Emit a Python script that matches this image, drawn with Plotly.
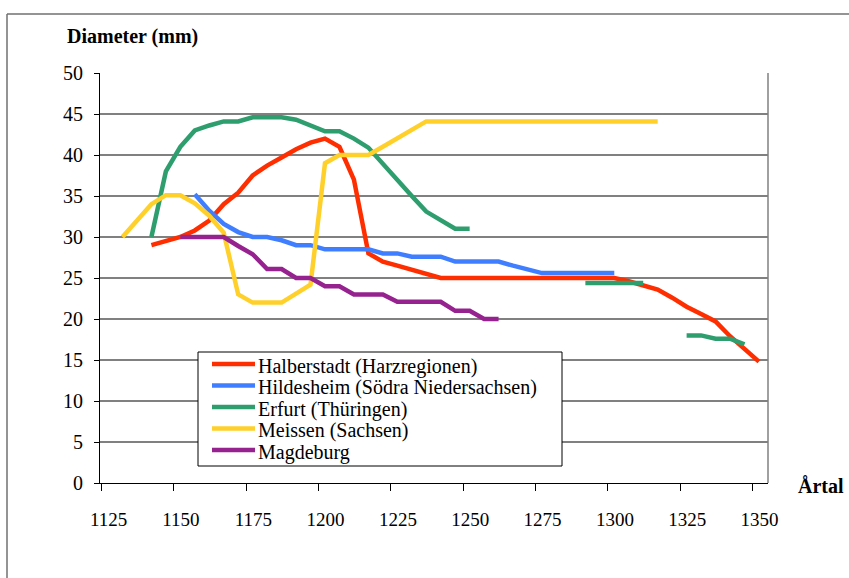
import plotly.graph_objects as go

# ---------------- data ----------------
series_names = [
    "Halberstadt (Harzregionen)",
    "Hildesheim (Södra Niedersachsen)",
    "Erfurt (Thüringen)",
    "Meissen (Sachsen)",
    "Magdeburg",
]

red_years = [1140, 1145, 1150, 1155, 1160, 1165, 1170, 1175, 1180, 1185, 1190, 1195,
             1200, 1205, 1210, 1215, 1220, 1225, 1230, 1235, 1240, 1245, 1250, 1255,
             1260, 1265, 1270, 1275, 1280, 1285, 1290, 1295, 1300, 1305, 1310, 1315,
             1320, 1325, 1330, 1335, 1340, 1345, 1350]
red_vals = [29.0, 29.5, 30.0, 30.8, 32.0, 34.0, 35.4, 37.5, 38.7, 39.7, 40.7, 41.5,
            42.0, 41.0, 37.0, 28.0, 27.0, 26.5, 26.0, 25.6, 25.0, 25.0, 25.0, 25.0,
            25.0, 25.0, 25.0, 25.0, 25.0, 25.0, 25.0, 25.0, 25.0, 24.6, 24.1, 23.6,
            22.6, 21.5, 20.6, 19.7, 17.9, 16.4, 14.8]

blue_years = [1155, 1160, 1165, 1170, 1175, 1180, 1185, 1190, 1195, 1200, 1205, 1210,
              1215, 1220, 1225, 1230, 1235, 1240, 1245, 1250, 1255, 1260, 1265, 1270,
              1275, 1280, 1285, 1290, 1295, 1300]
blue_vals = [35.2, 33.2, 31.6, 30.6, 30.0, 30.0, 29.6, 29.0, 29.0, 28.5, 28.5, 28.5,
             28.5, 28.0, 28.0, 27.6, 27.6, 27.6, 27.0, 27.0, 27.0, 27.0, 26.5, 26.0,
             25.6, 25.6, 25.6, 25.6, 25.6, 25.6]

green_years = [1140, 1145, 1150, 1155, 1160, 1165, 1170, 1175, 1180, 1185, 1190, 1195,
               1200, 1205, 1210, 1215, 1220, 1225, 1230, 1235, 1240, 1245, 1250, 1255,
               1260, 1265, 1270, 1275, 1280, 1285, 1290, 1295, 1300, 1305, 1310, 1315,
               1320, 1325, 1330, 1335, 1340, 1345]
green_vals = [30.0, 38.0, 41.0, 43.0, 43.6, 44.1, 44.1, 44.6, 44.6, 44.6, 44.3, 43.6,
              42.9, 42.9, 42.0, 40.9, 39.0, 37.0, 35.0, 33.1, 32.1, 31.0, 31.0, None,
              None, None, None, None, None, None, 24.4, 24.4, 24.4, 24.4, 24.4, None,
              None, 18.0, 18.0, 17.6, 17.6, 16.9]

yellow_years = [1130, 1135, 1140, 1145, 1150, 1155, 1160, 1165, 1170, 1175, 1180, 1185,
                1190, 1195, 1200, 1205, 1210, 1215, 1220, 1225, 1230, 1235, 1240, 1245,
                1250, 1255, 1260, 1265, 1270, 1275, 1280, 1285, 1290, 1295, 1300, 1305,
                1310, 1315]
yellow_vals = [30.0, 32.0, 34.0, 35.1, 35.1, 34.1, 32.6, 30.5, 23.0, 22.0, 22.0, 22.0,
               23.1, 24.2, 39.0, 40.0, 40.0, 40.0, 41.0, 42.0, 43.0, 44.1, 44.1, 44.1,
               44.1, 44.1, 44.1, 44.1, 44.1, 44.1, 44.1, 44.1, 44.1, 44.1, 44.1, 44.1,
               44.1, 44.1]

purple_years = [1150, 1155, 1160, 1165, 1170, 1175, 1180, 1185, 1190, 1195, 1200, 1205,
                1210, 1215, 1220, 1225, 1230, 1235, 1240, 1245, 1250, 1255, 1260]
purple_vals = [30.0, 30.0, 30.0, 30.0, 28.9, 27.9, 26.1, 26.1, 25.0, 25.0, 24.0, 24.0,
               23.0, 23.0, 23.0, 22.1, 22.1, 22.1, 22.1, 21.0, 21.0, 20.0, 20.0]

tick_labels = ["1125", "1150", "1175", "1200", "1225", "1250", "1275", "1300", "1325", "1350"]
y_ticks = [0, 5, 10, 15, 20, 25, 30, 35, 40, 45, 50]

colors = ["#FF2E00", "#3F7FFF", "#2E9E6E", "#FFD02A", "#962290"]

# ---------------- figure ----------------
W, H = 849, 578
ML, MR, MT, MB = 100, 81, 73, 95
PW, PH = W - ML - MR, H - MT - MB


def px(x):
    return (x - ML) / PW


def py(y):
    return (H - MB - y) / PH


FONT = "Liberation Serif"

fig = go.Figure()
all_years = [red_years, blue_years, green_years, yellow_years, purple_years]
all_vals = [red_vals, blue_vals, green_vals, yellow_vals, purple_vals]
for name, xs, ys, c in zip(series_names, all_years, all_vals, colors):
    fig.add_trace(go.Scatter(x=xs, y=ys, mode="lines", name=name,
                             line=dict(color=c, width=4.5),
                             connectgaps=False, showlegend=False))

# axis scale: year -> pixel
x_left, x_right = 1122.23, 1122.23 + PW / 2.893
tick_offset = 2.2
tick_vals = [int(t) - tick_offset for t in tick_labels]

shapes = []
# 25 grid line drawn darker
shapes.append(dict(type="line", xref="paper", yref="y", x0=0, x1=1, y0=25, y1=25,
                   line=dict(color="black", width=1), layer="below"))
# right border of plot area
shapes.append(dict(type="line", xref="paper", yref="paper", x0=1, x1=1, y0=0, y1=1,
                   line=dict(color="#808080", width=1.5)))
# outer chart border (top and left)
shapes.append(dict(type="line", xref="paper", yref="paper", x0=px(7), x1=px(860),
                   y0=py(14), y1=py(14), line=dict(color="#707070", width=1.5)))
shapes.append(dict(type="line", xref="paper", yref="paper", x0=px(7), x1=px(7),
                   y0=py(14), y1=py(600), line=dict(color="#707070", width=1.5)))

# legend box
lx0, lx1, ly0, ly1 = 198, 562, 352, 466
shapes.append(dict(type="rect", xref="paper", yref="paper", x0=px(lx0), x1=px(lx1),
                   y0=py(ly1), y1=py(ly0), line=dict(color="black", width=1),
                   fillcolor="white"))
annotations = []
for i, (name, c) in enumerate(zip(series_names, colors)):
    yy = 364.0 + 21.5 * i
    shapes.append(dict(type="line", xref="paper", yref="paper", x0=px(212), x1=px(255),
                       y0=py(yy), y1=py(yy), line=dict(color=c, width=4.5)))
    annotations.append(dict(text=name, xref="paper", yref="paper", x=px(256), y=py(yy + 2),
                            xanchor="left", yanchor="middle", showarrow=False,
                            font=dict(family=FONT, size=20, color="black")))

annotations.append(dict(text="<b>Diameter (mm)</b>", xref="paper", yref="paper",
                        x=px(65), y=py(37), xanchor="left", yanchor="middle",
                        showarrow=False, font=dict(family=FONT, size=20, color="black")))
annotations.append(dict(text="<b>Årtal</b>", xref="paper", yref="paper",
                        x=px(796), y=py(486), xanchor="left", yanchor="middle",
                        showarrow=False, font=dict(family=FONT, size=20, color="black")))

fig.update_layout(
    width=W, height=H,
    margin=dict(l=ML, r=MR, t=MT, b=MB, pad=0),
    paper_bgcolor="white", plot_bgcolor="white",
    font=dict(family=FONT, size=20, color="black"),
    shapes=shapes, annotations=annotations,
    showlegend=False,
)
fig.update_xaxes(range=[x_left, x_right], tickmode="array", tickvals=tick_vals,
                 ticktext=tick_labels, ticklabelshift=7, ticks="outside", ticklen=7,
                 tickcolor="black", tickwidth=1, showline=True, linecolor="black",
                 linewidth=1.2, showgrid=False, zeroline=False,
                 tickfont=dict(family=FONT, size=19), ticklabelstandoff=12)
fig.update_yaxes(range=[0, 50], tickmode="array", tickvals=y_ticks, ticks="outside",
                 ticklen=5, tickcolor="black", showline=True, linecolor="black",
                 linewidth=1.2, showgrid=True, gridcolor="#808080", gridwidth=1.5,
                 zeroline=False, tickfont=dict(family=FONT, size=20),
                 ticklabelstandoff=7)

fig.write_html("out.html", config={"displayModeBar": False},
               post_script="document.body.style.margin='0';"
                           "document.body.style.overflow='hidden';")
